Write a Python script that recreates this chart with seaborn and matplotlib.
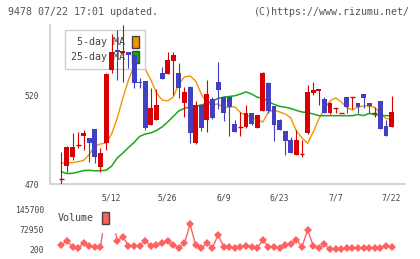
import matplotlib
matplotlib.use("Agg")
import matplotlib.pyplot as plt
from matplotlib.patches import Patch
import numpy as np
import pandas as pd
import seaborn as sns

# trading days shown (TSE holidays removed)
HOLIDAYS = ["2025-04-29", "2025-05-05", "2025-05-06", "2025-07-21"]
DATES = pd.bdate_range("2025-04-24", "2025-07-22", freq="C", holidays=HOLIDAYS)
TICK_DATES = ["5/12", "5/26", "6/9", "6/23", "7/7", "7/22"]

OPEN = [472.7, 480.4, 485.5, 492.2, 497.4, 496.0, 501.3, 479.8, 493.3,
        534.8, 546.1, 544.3, 544.8, 543.3, 528.1, 528.5, 503.5, 506.4, 533.2,
        532.5, 540.1, 533.2, 515.9, 525.3, 493.5, 514.9, 506.4, 518.1, 528.1,
        519.6, 519.6, 504.1, 502.2, 502.2, 510.2, 502.0, 511.6, 527.6, 514.3,
        506.4, 500.1, 495.0, 486.5, 486.9, 498.8, 521.9, 522.8, 518.3, 510.2,
        513.0, 510.2, 519.3, 519.6, 515.9, 521.1, 515.9, 510.2, 517.2, 503.0,
        502.6]
HIGH = [488.0, 491.4, 498.8, 499.7, 500.7, 496.3, 501.5, 490.3, 532.8,
        555.2, 557.5, 560.3, 545.0, 543.5, 530.0, 528.7, 524.4, 524.0, 536.3,
        545.2, 545.2, 538.9, 525.3, 525.5, 517.3, 515.1, 529.1, 519.6, 539.1,
        519.8, 519.8, 506.4, 511.1, 514.9, 510.4, 509.4, 533.4, 527.8, 514.5,
        507.1, 500.3, 496.5, 500.7, 495.0, 526.3, 528.1, 524.2, 519.6, 516.4,
        513.0, 510.2, 519.5, 519.6, 516.1, 521.3, 516.1, 513.6, 517.4, 506.4,
        520.0]
LOW = [469.8, 476.6, 483.6, 490.3, 489.3, 482.7, 481.8, 476.6, 489.3,
       532.9, 529.1, 528.1, 535.9, 524.4, 524.4, 500.7, 503.3, 506.2, 529.5,
       532.3, 520.6, 518.7, 507.9, 493.5, 492.7, 500.3, 499.7, 506.7, 512.4,
       506.0, 497.4, 499.5, 497.3, 502.0, 503.7, 501.8, 511.4, 510.2, 494.6,
       500.5, 486.5, 487.6, 486.3, 485.5, 498.6, 520.6, 514.9, 510.2, 510.0,
       510.2, 510.2, 510.5, 512.4, 510.5, 513.0, 510.5, 508.2, 501.0, 497.1,
       502.4]
CLOSE = [472.7, 491.2, 491.2, 492.2, 499.1, 493.1, 485.5, 487.4, 532.5,
         544.8, 544.8, 545.7, 543.3, 527.2, 527.2, 501.6, 513.0, 514.9, 529.7,
         540.5, 543.3, 524.4, 522.4, 498.8, 514.9, 501.6, 521.1, 507.7, 523.4,
         510.2, 513.6, 499.7, 502.2, 510.2, 503.9, 509.2, 533.2, 511.6, 503.5,
         500.7, 494.6, 487.8, 495.0, 486.9, 522.4, 523.4, 524.0, 510.5, 516.2,
         513.0, 510.2, 513.9, 519.6, 513.6, 519.0, 514.3, 510.2, 501.1, 497.3,
         511.1]
MA5 = [481.8, 482.1, 482.1, 482.7, 483.4, 486.8, 491.6, 492.7, 493.3,
       498.4, 507.5, 518.9, 529.1, 537.0, 537.6, 535.3, 529.1, 521.7, 517.7,
       517.2, 519.4, 526.8, 530.8, 531.4, 528.5, 521.1, 516.0, 514.9, 515.5,
       513.2, 513.8, 513.8, 510.6, 509.0, 508.0, 506.6, 505.2, 510.9, 512.0,
       510.9, 509.8, 507.5, 500.1, 496.1, 493.1, 499.5, 506.9, 512.6, 517.2,
       518.9, 516.6, 513.5, 512.0, 513.8, 514.3, 514.3, 513.5, 510.1, 507.2,
       506.8]
MA25 = [477.0, 475.9, 476.1, 476.8, 477.6, 477.8, 477.5, 477.6, 477.8,
        480.2, 484.8, 487.6, 490.7, 493.6, 497.0, 498.4, 499.0, 500.4, 502.4,
        505.2, 508.4, 511.5, 513.0, 513.8, 514.1, 514.9, 515.9, 517.2, 518.6,
        519.3, 519.7, 520.1, 521.1, 522.3, 521.1, 519.3, 518.7, 516.9, 515.2,
        514.1, 513.6, 512.9, 511.8, 510.9, 510.5, 509.8, 508.8, 508.8, 508.8,
        508.8, 508.8, 508.8, 508.8, 509.5, 508.8, 510.1, 509.3, 509.0, 508.8,
        508.8]
VOLUME = [15800, 31500, 9600, 3800, 24200, 12200, 7500, 9600, 145700,
          133000, 30400, 46000, 13300, 12200, 12200, 30400, 12200, 15800, 22000,
          30400, 15800, 6000, 22000, 91100, 15800, 6000, 22000, 6000, 52200,
          9600, 9600, 6000, 9600, 12200, 9600, 3800, 34000, 9600, 9600,
          3800, 15800, 18400, 34000, 9600, 70400, 13300, 6000, 18400, 1300,
          1300, 200, 3800, 3800, 3800, 3800, 6000, 6000, 6000, 13300,
          7500]

UP, DOWN = "#d80000", "#4040c0"
C_MA5, C_MA25, C_VOL = "#f39400", "#18a818", "#ff6060"
GRID = "#d0d0d0"
TXT = "#444444"
MONO = ["DejaVu Sans Mono"]

sns.set_style("white")
plt.rcParams["font.family"] = MONO

df = pd.DataFrame({"date": DATES, "open": OPEN, "high": HIGH, "low": LOW,
                   "close": CLOSE, "ma5": MA5, "ma25": MA25, "volume": VOLUME})
df["pos"] = np.arange(len(df))
df["label"] = [f"{d.month}/{d.day}" for d in df["date"]]
up = df["close"] >= df["open"]
df["color"] = np.where(up, UP, DOWN)

W, H = 420, 259
fig = plt.figure(figsize=(W / 100, H / 100), dpi=100)
ax = fig.add_axes([50 / W, 1 - 184 / H, 355 / W, 159 / H])
vax = fig.add_axes([50 / W, 1 - 253 / H, 355 / W, 48 / H])
xlim = (-2.02, 61.4)

# moving averages under the candles
sns.lineplot(data=df, x="pos", y="ma5", ax=ax, color=C_MA5, linewidth=1.0, zorder=2)
sns.lineplot(data=df, x="pos", y="ma25", ax=ax, color=C_MA25, linewidth=1.1, zorder=2)

# candles
ax.vlines(df["pos"], df["low"], df["high"], colors=df["color"], linewidth=0.8, zorder=3)
body_lo = df[["open", "close"]].min(axis=1)
body_h = (df["close"] - df["open"]).abs()
ax.bar(df["pos"], body_h, bottom=body_lo, width=0.88, color=df["color"],
       linewidth=0, zorder=3.1)
doji = df[body_h < 0.3]
ax.hlines(doji["close"], doji["pos"] - 0.44, doji["pos"] + 0.44, colors=doji["color"],
          linewidth=1.0, zorder=3.1)

ax.set_xlim(*xlim)
ax.set_ylim(470, 560.3)
ax.set_xlabel("")
ax.set_ylabel("")
for s in ["top", "right"]:
    ax.spines[s].set_visible(False)
for s in ["left", "bottom"]:
    ax.spines[s].set_color(GRID)
    ax.spines[s].set_linewidth(1.3)
ax.set_yticks([470, 520])
ax.tick_params(axis="y", direction="inout", length=6, width=1.1, color=GRID,
               labelsize=5.8, labelcolor=TXT, pad=4.5)
tick_pos = df.loc[df["label"].isin(TICK_DATES), "pos"]
ax.set_xticks(tick_pos)
ax.set_xticklabels(TICK_DATES)
ax.set_xticks(np.linspace(xlim[0], xlim[1], 12), minor=True)
ax.tick_params(axis="x", which="major", length=0, labelsize=5.8, labelcolor=TXT, pad=7)
ax.tick_params(axis="x", which="minor", direction="inout", length=6.2, width=1.1, color=GRID)

leg = ax.legend(handles=[Patch(facecolor=C_MA5, edgecolor="#444444", linewidth=1),
                         Patch(facecolor=C_MA25, edgecolor="#444444", linewidth=1)],
                labels=["5-day MA", "25-day MA"], markerfirst=False, loc="upper left",
                bbox_to_anchor=(65 / W, 1 - 30 / H), bbox_transform=fig.transFigure,
                borderaxespad=0, borderpad=0.6, handlelength=0.67, handleheight=1.5,
                handletextpad=0.7, labelspacing=0.25, fontsize=7.2, fancybox=False,
                framealpha=1, facecolor="white", edgecolor="#cccccc")
leg.get_frame().set_linewidth(1.0)
for t in leg.get_texts():
    t.set_color(TXT)
leg.set_zorder(2.5)

# volume panel
sns.lineplot(data=df, x="pos", y="volume", ax=vax, color=C_VOL, linewidth=1.0,
             marker="D", markersize=4.3, markeredgewidth=0, zorder=2)
vmin, vmax = df["volume"].min(), df["volume"].max()
per_px = (vmax - vmin) / 40
vax.set_xlim(*xlim)
vax.set_ylim(vmin - 3.7 * per_px, vmax + 4.3 * per_px)
vax.set_yticks([vmin, (vmin + vmax) / 2, vmax])
vax.set_yticklabels([f"{v:.0f}" for v in [vmin, (vmin + vmax) / 2, vmax]])
vax.tick_params(axis="y", length=0, labelsize=5.8, labelcolor=TXT, pad=4.3)
vax.set_xticks([])
vax.set_xlabel("")
vax.set_ylabel("")
for s in vax.spines.values():
    s.set_visible(False)
# opaque legend box hides the two spike days, as in the source chart
vleg = vax.legend(handles=[Patch(facecolor=C_VOL, edgecolor="#444444", linewidth=1)],
                  labels=["Volume"], markerfirst=False, loc="upper left",
                  bbox_to_anchor=(50 / W, 1 - 204 / H), bbox_transform=fig.transFigure,
                  borderaxespad=0, borderpad=0.8, handlelength=0.7, handleheight=1.5,
                  handletextpad=0.75, fontsize=7.2, fancybox=False, framealpha=1,
                  facecolor="white", edgecolor="white")
vleg.get_texts()[0].set_color(TXT)
vleg.set_zorder(5)
vax.set_clip_on(False)

fig.text(8 / W, 1 - 12 / H, "9478 07/22 17:01 updated.", fontsize=7.2, color="#555555",
         va="center", ha="left", family=MONO)
fig.text(410 / W, 1 - 12 / H, "(C)https://www.rizumu.net/", fontsize=7.2, color="#555555",
         va="center", ha="right", family=MONO)

fig.savefig("out.png", dpi=100)
plt.close(fig)
